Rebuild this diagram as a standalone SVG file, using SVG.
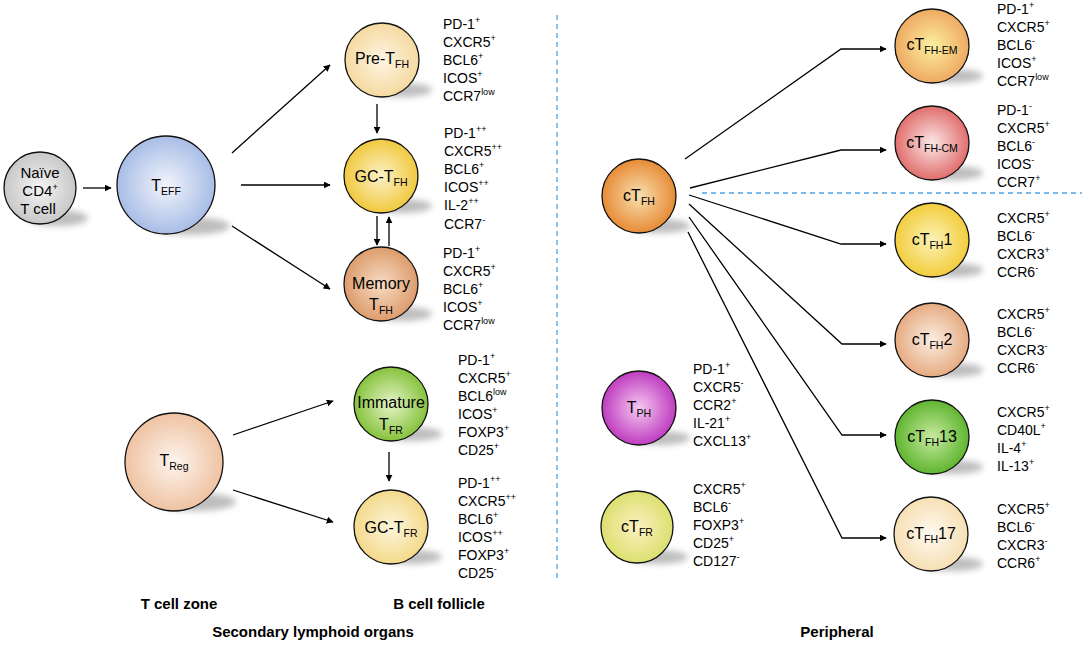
<svg xmlns="http://www.w3.org/2000/svg" width="1084" height="646" viewBox="0 0 1084 646">
<style>
text{font-family:"Liberation Sans",Arial,sans-serif;fill:#000}
.c{stroke:#111;stroke-width:1.3}
.lbl{font-size:16px;text-anchor:middle}
.m{font-size:14px}
.sb{font-size:10.5px}
.sp{font-size:9px}
.b{font-size:15px;font-weight:bold;text-anchor:middle}
.ln{fill:none;stroke:#000;stroke-width:1.3;marker-end:url(#ah)}
.dash{stroke:#4ea3e6;stroke-width:1.3;stroke-dasharray:5,4;fill:none}
.sh{fill:#888;opacity:.55;filter:url(#bl)}
</style>
<defs>
<marker id="ah" viewBox="0 0 10 10" refX="9" refY="5" markerWidth="7" markerHeight="7" orient="auto" markerUnits="userSpaceOnUse"><path d="M0,0L10,5L0,10z" fill="#000"/></marker>
<filter id="bl" x="-50%" y="-50%" width="200%" height="200%"><feGaussianBlur stdDeviation="3"/></filter>
<radialGradient id="gNa" cx=".5" cy=".5" r=".5"><stop offset="0" stop-color="#f4f4f4"/><stop offset="1" stop-color="#c8c8c8"/></radialGradient>
<radialGradient id="gEf" cx=".5" cy=".5" r=".5"><stop offset="0" stop-color="#f2f4fb"/><stop offset="1" stop-color="#a8bde6"/></radialGradient>
<radialGradient id="gPre" cx=".5" cy=".5" r=".5"><stop offset="0" stop-color="#fdf5e4"/><stop offset="1" stop-color="#f5d9a0"/></radialGradient>
<radialGradient id="gGC" cx=".5" cy=".5" r=".5"><stop offset="0" stop-color="#fbf1c8"/><stop offset="1" stop-color="#f1c93e"/></radialGradient>
<radialGradient id="gMem" cx=".5" cy=".5" r=".5"><stop offset="0" stop-color="#f8dcc4"/><stop offset="1" stop-color="#dc9c6c"/></radialGradient>
<radialGradient id="gReg" cx=".5" cy=".5" r=".5"><stop offset="0" stop-color="#fdf4ee"/><stop offset="1" stop-color="#efc3a2"/></radialGradient>
<radialGradient id="gImm" cx=".5" cy=".5" r=".5"><stop offset="0" stop-color="#e6f4c8"/><stop offset="1" stop-color="#86c23c"/></radialGradient>
<radialGradient id="gGR" cx=".5" cy=".5" r=".5"><stop offset="0" stop-color="#fdf6dc"/><stop offset="1" stop-color="#f3d98a"/></radialGradient>
<radialGradient id="gC" cx=".5" cy=".5" r=".5"><stop offset="0" stop-color="#f8e0b0"/><stop offset="1" stop-color="#e78b36"/></radialGradient>
<radialGradient id="gEM" cx=".5" cy=".5" r=".5"><stop offset="0" stop-color="#fcf0a0"/><stop offset="1" stop-color="#eeaa62"/></radialGradient>
<radialGradient id="gCM" cx=".5" cy=".5" r=".5"><stop offset="0" stop-color="#fbe8e8"/><stop offset="1" stop-color="#e06e6c"/></radialGradient>
<radialGradient id="g1" cx=".5" cy=".5" r=".5"><stop offset="0" stop-color="#fcf2b8"/><stop offset="1" stop-color="#f2cd3c"/></radialGradient>
<radialGradient id="g2" cx=".5" cy=".5" r=".5"><stop offset="0" stop-color="#fbeee4"/><stop offset="1" stop-color="#e6ab80"/></radialGradient>
<radialGradient id="g13" cx=".5" cy=".5" r=".5"><stop offset="0" stop-color="#c8eaa0"/><stop offset="1" stop-color="#5fb530"/></radialGradient>
<radialGradient id="g17" cx=".5" cy=".5" r=".5"><stop offset="0" stop-color="#fefaf0"/><stop offset="1" stop-color="#f6dfb4"/></radialGradient>
<radialGradient id="gPH" cx=".5" cy=".5" r=".5"><stop offset="0" stop-color="#f5c8f0"/><stop offset="1" stop-color="#bf3cc0"/></radialGradient>
<radialGradient id="gFR" cx=".5" cy=".5" r=".5"><stop offset="0" stop-color="#fcf0c0"/><stop offset="1" stop-color="#dce070"/></radialGradient>
</defs>

<g id="dividers">
<line class="dash" x1="557" y1="15" x2="557" y2="582"/>
<line class="dash" x1="702" y1="193" x2="1082" y2="193"/>
</g>

<g id="connectors">
<line class="ln" x1="83" y1="188" x2="111" y2="188"/>
<line class="ln" x1="232" y1="153" x2="330" y2="65"/>
<line class="ln" x1="241" y1="185" x2="330" y2="185"/>
<line class="ln" x1="232" y1="226" x2="330" y2="289"/>
<line class="ln" x1="377" y1="104" x2="377" y2="133"/>
<line class="ln" x1="377" y1="216" x2="377" y2="245"/>
<line class="ln" x1="389" y1="246" x2="389" y2="217"/>
<line class="ln" x1="233" y1="435" x2="333" y2="401"/>
<line class="ln" x1="233" y1="490" x2="333" y2="522"/>
<line class="ln" x1="389" y1="452" x2="389" y2="481"/>
<polyline class="ln" points="685,159 841,49 886,49"/>
<polyline class="ln" points="690,188 841,150 886,150"/>
<polyline class="ln" points="689,195 841,244 886,244"/>
<polyline class="ln" points="689,204 842,344 886,344"/>
<polyline class="ln" points="689,217 842,435 886,435"/>
<polyline class="ln" points="688,232 842,538 886,538"/>
</g>

<g id="naive"><ellipse class="sh" cx="58" cy="218" rx="30" ry="8"/><circle class="c" cx="40" cy="188" r="36" fill="url(#gNa)"/>
<text class="lbl" x="40" y="178" style="font-size:15px">Naïve</text><text class="lbl" x="40" y="196" style="font-size:15px">CD4<tspan class="sp" dy="-6">+</tspan></text><text class="lbl" x="38" y="214" style="font-size:15px">T cell</text></g>

<g id="teff"><ellipse class="sh" cx="190" cy="226" rx="40" ry="9"/><circle class="c" cx="166" cy="185" r="49" fill="url(#gEf)"/>
<text class="lbl" x="166" y="191">T<tspan class="sb" dy="4">EFF</tspan></text></g>

<g id="pre"><ellipse class="sh" cx="402" cy="90" rx="30" ry="7"/><circle class="c" cx="382" cy="60" r="37" fill="url(#gPre)"/>
<text class="lbl" x="382" y="64">Pre-T<tspan class="sb" dy="4">FH</tspan></text></g>

<g id="gctfh"><ellipse class="sh" cx="402" cy="206" rx="30" ry="7"/><circle class="c" cx="381" cy="176" r="37" fill="url(#gGC)"/>
<text class="lbl" x="381" y="182">GC-T<tspan class="sb" dy="4">FH</tspan></text></g>

<g id="memory"><ellipse class="sh" cx="402" cy="314" rx="30" ry="7"/><circle class="c" cx="381" cy="284" r="37" fill="url(#gMem)"/>
<text class="lbl" x="381" y="289">Memory</text><text class="lbl" x="381" y="310">T<tspan class="sb" dy="4">FH</tspan></text></g>

<g id="treg"><ellipse class="sh" cx="196" cy="502" rx="40" ry="9"/><circle class="c" cx="174" cy="462" r="49" fill="url(#gReg)"/>
<text class="lbl" x="174" y="466">T<tspan class="sb" dy="4">Reg</tspan></text></g>

<g id="immtfr"><ellipse class="sh" cx="412" cy="434" rx="30" ry="7"/><circle class="c" cx="391" cy="404" r="37" fill="url(#gImm)"/>
<text class="lbl" x="391" y="408">Immature</text><text class="lbl" x="391" y="430">T<tspan class="sb" dy="4">FR</tspan></text></g>

<g id="gctfr"><ellipse class="sh" cx="412" cy="557" rx="30" ry="7"/><circle class="c" cx="391" cy="527" r="37" fill="url(#gGR)"/>
<text class="lbl" x="391" y="533">GC-T<tspan class="sb" dy="4">FR</tspan></text></g>

<g id="ctfh"><ellipse class="sh" cx="660" cy="226" rx="30" ry="7"/><circle class="c" cx="639" cy="196" r="37" fill="url(#gC)"/>
<text class="lbl" x="639" y="201">cT<tspan class="sb" dy="4">FH</tspan></text></g>

<g id="em"><ellipse class="sh" cx="953" cy="76" rx="30" ry="7"/><circle class="c" cx="932" cy="46" r="37" fill="url(#gEM)"/>
<text class="lbl" x="932" y="50">cT<tspan class="sb" dy="4">FH-EM</tspan></text></g>

<g id="cm"><ellipse class="sh" cx="953" cy="173" rx="30" ry="7"/><circle class="c" cx="932" cy="143" r="37" fill="url(#gCM)"/>
<text class="lbl" x="932" y="148">cT<tspan class="sb" dy="4">FH-CM</tspan></text></g>

<g id="tfh1"><ellipse class="sh" cx="953" cy="270" rx="30" ry="7"/><circle class="c" cx="932" cy="240" r="37" fill="url(#g1)"/>
<text class="lbl" x="932" y="245">cT<tspan class="sb" dy="4">FH</tspan><tspan dy="-4">1</tspan></text></g>

<g id="tfh2"><ellipse class="sh" cx="953" cy="370" rx="30" ry="7"/><circle class="c" cx="932" cy="340" r="37" fill="url(#g2)"/>
<text class="lbl" x="932" y="345">cT<tspan class="sb" dy="4">FH</tspan><tspan dy="-4">2</tspan></text></g>

<g id="tfh13"><ellipse class="sh" cx="953" cy="467" rx="30" ry="7"/><circle class="c" cx="932" cy="437" r="37" fill="url(#g13)"/>
<text class="lbl" x="932" y="442">cT<tspan class="sb" dy="4">FH</tspan><tspan dy="-4">13</tspan></text></g>

<g id="tfh17"><ellipse class="sh" cx="953" cy="564" rx="30" ry="7"/><circle class="c" cx="931" cy="534" r="37" fill="url(#g17)"/>
<text class="lbl" x="931" y="539">cT<tspan class="sb" dy="4">FH</tspan><tspan dy="-4">17</tspan></text></g>

<g id="tph"><ellipse class="sh" cx="660" cy="438" rx="30" ry="7"/><circle class="c" cx="639" cy="408" r="37" fill="url(#gPH)"/>
<text class="lbl" x="639" y="413">T<tspan class="sb" dy="4">PH</tspan></text></g>

<g id="ctfr"><ellipse class="sh" cx="658" cy="557" rx="30" ry="7"/><circle class="c" cx="637" cy="527" r="36" fill="url(#gFR)"/>
<text class="lbl" x="637" y="532">cT<tspan class="sb" dy="4">FR</tspan></text></g>

<g id="markers">
<text class="m" x="443" y="29">PD-1<tspan class="sp" dy="-6">+</tspan></text>
<text class="m" x="443" y="47">CXCR5<tspan class="sp" dy="-6">+</tspan></text>
<text class="m" x="443" y="65">BCL6<tspan class="sp" dy="-6">+</tspan></text>
<text class="m" x="443" y="83">ICOS<tspan class="sp" dy="-6">+</tspan></text>
<text class="m" x="443" y="101">CCR7<tspan class="sp" dy="-6">low</tspan></text>

<text class="m" x="444" y="138">PD-1<tspan class="sp" dy="-6">++</tspan></text>
<text class="m" x="444" y="156">CXCR5<tspan class="sp" dy="-6">++</tspan></text>
<text class="m" x="444" y="174">BCL6<tspan class="sp" dy="-6">+</tspan></text>
<text class="m" x="444" y="192">ICOS<tspan class="sp" dy="-6">++</tspan></text>
<text class="m" x="444" y="210">IL-2<tspan class="sp" dy="-6">++</tspan></text>
<text class="m" x="444" y="229">CCR7<tspan class="sp" dy="-6">-</tspan></text>

<text class="m" x="443" y="258">PD-1<tspan class="sp" dy="-6">+</tspan></text>
<text class="m" x="443" y="276">CXCR5<tspan class="sp" dy="-6">+</tspan></text>
<text class="m" x="443" y="294">BCL6<tspan class="sp" dy="-6">+</tspan></text>
<text class="m" x="443" y="312">ICOS<tspan class="sp" dy="-6">+</tspan></text>
<text class="m" x="443" y="330">CCR7<tspan class="sp" dy="-6">low</tspan></text>

<text class="m" x="458" y="365">PD-1<tspan class="sp" dy="-6">+</tspan></text>
<text class="m" x="458" y="383">CXCR5<tspan class="sp" dy="-6">+</tspan></text>
<text class="m" x="458" y="401">BCL6<tspan class="sp" dy="-6">low</tspan></text>
<text class="m" x="458" y="419">ICOS<tspan class="sp" dy="-6">+</tspan></text>
<text class="m" x="458" y="437">FOXP3<tspan class="sp" dy="-6">+</tspan></text>
<text class="m" x="458" y="455">CD25<tspan class="sp" dy="-6">+</tspan></text>

<text class="m" x="458" y="488">PD-1<tspan class="sp" dy="-6">++</tspan></text>
<text class="m" x="458" y="506">CXCR5<tspan class="sp" dy="-6">++</tspan></text>
<text class="m" x="458" y="524">BCL6<tspan class="sp" dy="-6">+</tspan></text>
<text class="m" x="458" y="542">ICOS<tspan class="sp" dy="-6">++</tspan></text>
<text class="m" x="458" y="560">FOXP3<tspan class="sp" dy="-6">+</tspan></text>
<text class="m" x="458" y="578">CD25<tspan class="sp" dy="-6">-</tspan></text>

<text class="m" x="997" y="14">PD-1<tspan class="sp" dy="-6">+</tspan></text>
<text class="m" x="997" y="32">CXCR5<tspan class="sp" dy="-6">+</tspan></text>
<text class="m" x="997" y="50">BCL6<tspan class="sp" dy="-6">-</tspan></text>
<text class="m" x="997" y="68">ICOS<tspan class="sp" dy="-6">+</tspan></text>
<text class="m" x="997" y="86">CCR7<tspan class="sp" dy="-6">low</tspan></text>

<text class="m" x="997" y="115">PD-1<tspan class="sp" dy="-6">-</tspan></text>
<text class="m" x="997" y="133">CXCR5<tspan class="sp" dy="-6">+</tspan></text>
<text class="m" x="997" y="151">BCL6<tspan class="sp" dy="-6">-</tspan></text>
<text class="m" x="997" y="169">ICOS<tspan class="sp" dy="-6">-</tspan></text>
<text class="m" x="997" y="187">CCR7<tspan class="sp" dy="-6">+</tspan></text>

<text class="m" x="997" y="223">CXCR5<tspan class="sp" dy="-6">+</tspan></text>
<text class="m" x="997" y="241">BCL6<tspan class="sp" dy="-6">-</tspan></text>
<text class="m" x="997" y="259">CXCR3<tspan class="sp" dy="-6">+</tspan></text>
<text class="m" x="997" y="277">CCR6<tspan class="sp" dy="-6">-</tspan></text>

<text class="m" x="997" y="319">CXCR5<tspan class="sp" dy="-6">+</tspan></text>
<text class="m" x="997" y="337">BCL6<tspan class="sp" dy="-6">-</tspan></text>
<text class="m" x="997" y="355">CXCR3<tspan class="sp" dy="-6">-</tspan></text>
<text class="m" x="997" y="373">CCR6<tspan class="sp" dy="-6">-</tspan></text>

<text class="m" x="997" y="417">CXCR5<tspan class="sp" dy="-6">+</tspan></text>
<text class="m" x="997" y="435">CD40L<tspan class="sp" dy="-6">+</tspan></text>
<text class="m" x="997" y="453">IL-4<tspan class="sp" dy="-6">+</tspan></text>
<text class="m" x="997" y="471">IL-13<tspan class="sp" dy="-6">+</tspan></text>

<text class="m" x="997" y="514">CXCR5<tspan class="sp" dy="-6">+</tspan></text>
<text class="m" x="997" y="532">BCL6<tspan class="sp" dy="-6">-</tspan></text>
<text class="m" x="997" y="550">CXCR3<tspan class="sp" dy="-6">-</tspan></text>
<text class="m" x="997" y="568">CCR6<tspan class="sp" dy="-6">+</tspan></text>

<text class="m" x="693" y="374">PD-1<tspan class="sp" dy="-6">+</tspan></text>
<text class="m" x="693" y="392">CXCR5<tspan class="sp" dy="-6">-</tspan></text>
<text class="m" x="693" y="410">CCR2<tspan class="sp" dy="-6">+</tspan></text>
<text class="m" x="693" y="428">IL-21<tspan class="sp" dy="-6">+</tspan></text>
<text class="m" x="693" y="446">CXCL13<tspan class="sp" dy="-6">+</tspan></text>

<text class="m" x="693" y="494">CXCR5<tspan class="sp" dy="-6">+</tspan></text>
<text class="m" x="693" y="512">BCL6<tspan class="sp" dy="-6">-</tspan></text>
<text class="m" x="693" y="530">FOXP3<tspan class="sp" dy="-6">+</tspan></text>
<text class="m" x="693" y="548">CD25<tspan class="sp" dy="-6">+</tspan></text>
<text class="m" x="693" y="566">CD127<tspan class="sp" dy="-6">-</tspan></text>
</g>

<g id="section-labels">
<text class="b" x="179" y="609">T cell zone</text>
<text class="b" x="439" y="609">B cell follicle</text>
<text class="b" x="313" y="637">Secondary lymphoid organs</text>
<text class="b" x="837" y="637">Peripheral</text>
</g>
</svg>
